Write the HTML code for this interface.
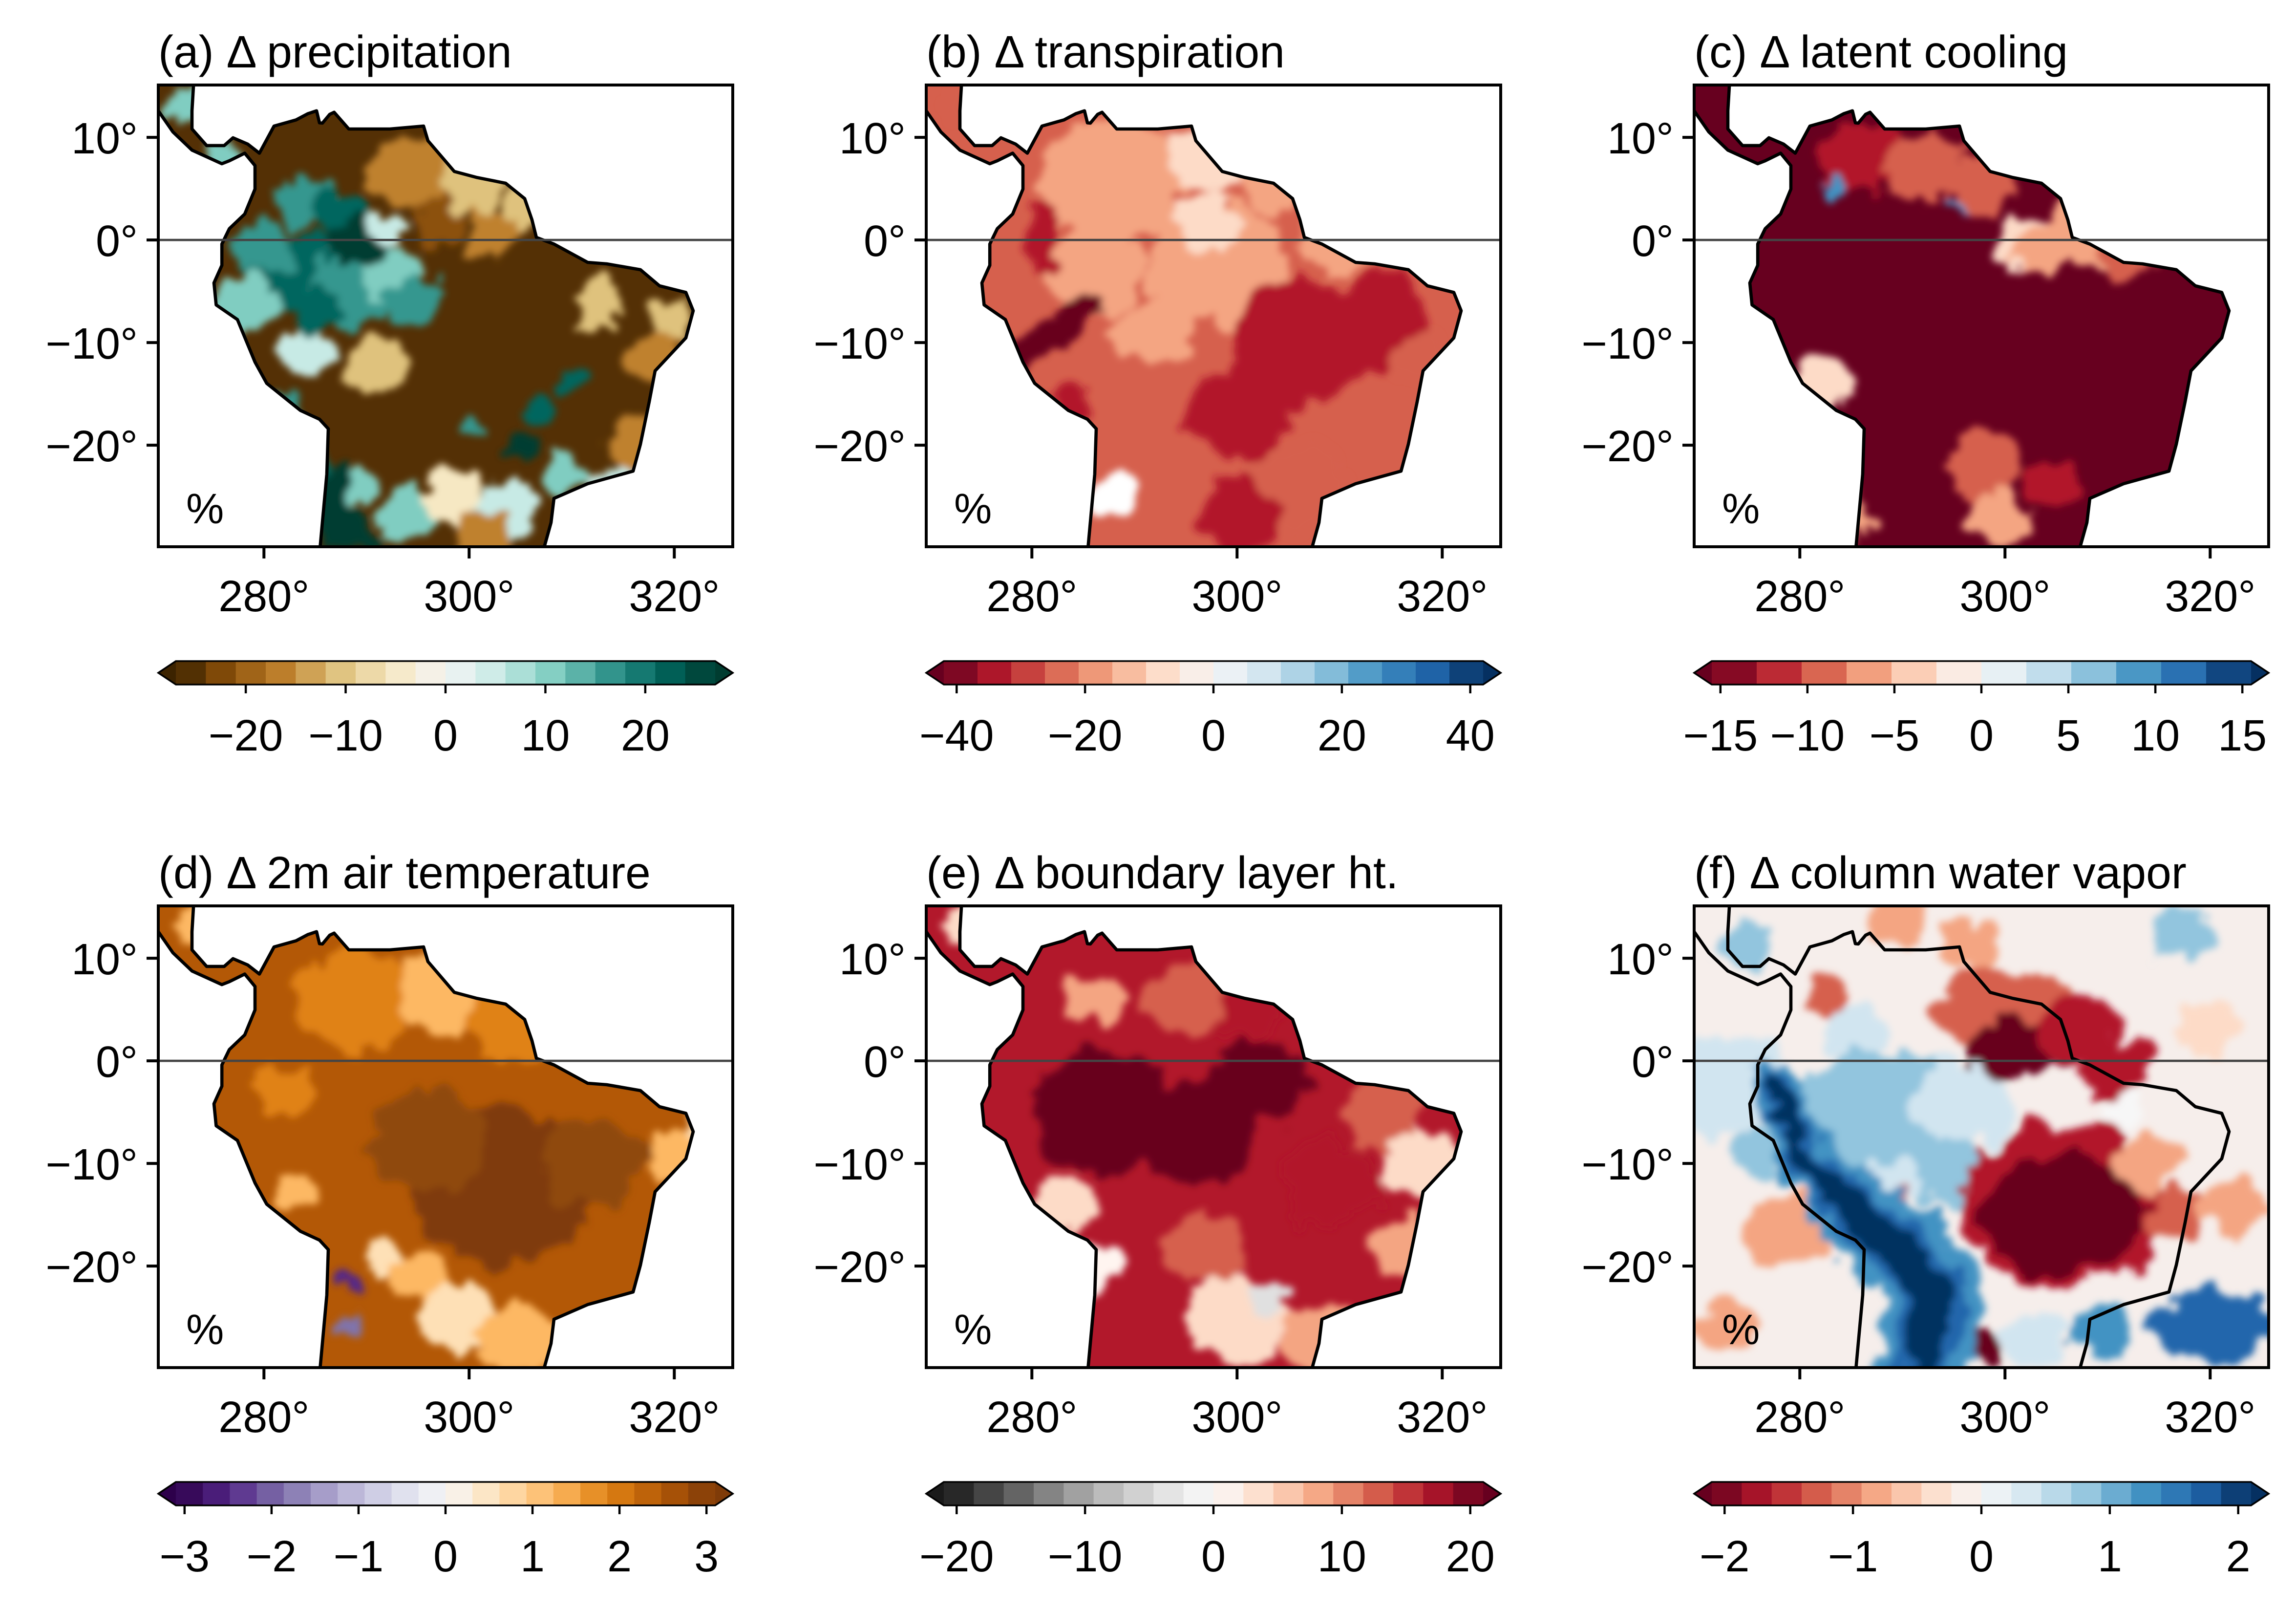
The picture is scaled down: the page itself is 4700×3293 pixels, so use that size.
<!DOCTYPE html>
<html><head><meta charset="utf-8">
<style>
html,body{margin:0;padding:0;background:#fff;}
svg{display:block;}
text{font-family:"Liberation Sans","DejaVu Sans",sans-serif;fill:#000;}
</style></head>
<body>
<svg id="fig" xmlns="http://www.w3.org/2000/svg" width="4700" height="3293" viewBox="0 0 1566.67 1097.67">
<defs>
<filter id="mottle" x="-20%" y="-20%" width="140%" height="140%">
  <feTurbulence type="fractalNoise" baseFrequency="0.05" numOctaves="3" seed="7" result="n"/>
  <feDisplacementMap in="SourceGraphic" in2="n" scale="26" xChannelSelector="R" yChannelSelector="G" result="d"/>
  <feGaussianBlur in="d" stdDeviation="2.5"/>
</filter>
</defs>
</svg>
<script>
// ---- data ----
const latTicks = [10, 0, -10, -20];
const latTickLabels = ["10°", "0°", "−10°", "−20°"];
const lonTicks = [280, 300, 320];
const lonTickLabels = ["280°", "300°", "320°"];
const panelTitles = ["(a) Δ precipitation","(b) Δ transpiration","(c) Δ latent cooling","(d) Δ 2m air temperature","(e) Δ boundary layer ht.","(f) Δ column water vapor"];
const cbMin = [-27, -42, -15.5, -3.1, -21, -2.1];
const cbMax = [27, 42, 15.5, 3.1, 21, 2.1];
const cbBins = [18, 16, 12, 20, 18, 18];
const cbTicks = [[-20,-10,0,10,20],[-40,-20,0,20,40],[-15,-10,-5,0,5,10,15],[-3,-2,-1,0,1,2,3],[-20,-10,0,10,20],[-2,-1,0,1,2]];
// coastline outline traced in map-frame units
const coastX = [-5,24,24,23,23,33,45,51,61,69,79,94,102,108,110,112,117,120,130,145,158,181,184,202,217,237,250,255,258,270,293,306,329,342,360,365,360,339,335,329,324,293,270,268,262,110,115,116,110,97,74,66,54,39.5,38,43.4,43.4,48.5,59,66,66,59,48.5,43.4,23,10,0,-5];
const coastY = [-5,-5,1,17.6,30,41.3,41.3,36,40.3,46.5,28,23.8,19.6,17.6,25.8,26,20,18.6,30,30,30,28,38,59,63,67,77.5,92,104,108.5,121,122,126,137,141.5,154,172.5,195,216,245,263.4,272,282,298.5,320,320,265.5,234.5,228,222,203.5,189,160,150,135,123,108.5,98,88,71,55,46.5,51.7,53.7,44.4,32,17.6,17.6];
const panelLeft = [108, 632, 1156];
const rowTop = [58, 618];

// Andes moisture band in panel f: lon, lat, width (deg)
const bandLon = [277.5, 280.3, 284.6, 289.7, 293, 292.5, 291.5];
const bandLat = [-2, -9.5, -14, -18.4, -22.2, -27, -31];
const bandWidth = [1.5, 2.5, 3.5, 4.5, 5, 4.5, 4];

// map anomaly blobs: [lon, lat, rx(deg), color, ry(deg), rotation]
const blobsA = [
 [282.6,-3.5,5,"#01665e"],[288.3,-4.9,4,"#35978f"],[284,3.7,3,"#35978f"],[287.6,2.2,3,"#01665e"],[292.6,-3.5,3,"#80cdc1"],
 [294.7,-6.3,3,"#35978f"],[278.3,-6.3,3,"#80cdc1"],[284,-10.6,3,"#c7eae5"],[291,-12,3,"#dfc27d"],[280,-1,3,"#35978f"],
 [289,0,3,"#003c30"],[285,-7,2.5,"#01665e"],[292,1,2,"#c7eae5"],[276,8,2,"#80cdc1"],[272,13,2,"#80cdc1"],
 [281.1,-17,2.5,"#35978f"],[284,-21,2.5,"#01665e"],[286.5,-24.5,2.5,"#003c30"],[288,-28,2.5,"#003c30"],[289.5,-24,2,"#80cdc1"],
 [294,-27,3,"#80cdc1"],[298.3,-25,3,"#f6e8c3"],[304,-26,3,"#c7eae5"],[309.7,-23,2,"#80cdc1"],[301,-29,3,"#bf812d"],
 [294,6.5,4,"#bf812d"],[299.7,5.1,3,"#dfc27d"],[302.6,0.8,3,"#bf812d"],[297,2,2.5,"#8c510a"],[306,4,3,"#dfc27d"],
 [318.3,-12,3,"#bf812d"],[319.7,-7.8,2.5,"#dfc27d"],[312.6,-6.3,2.5,"#dfc27d"],[316,-20,3,"#bf812d"],[314,-24,2.5,"#c7eae5"],
 [306.8,-16.5,1.5,"#01665e"],[305.4,-20,1.5,"#003c30"],[300.4,-18,1.2,"#35978f"],[310,-14,1.2,"#01665e"]];
const baseA = "#543005";
const blobsB = [
 [288,6,7,"#f4a582"],[297,8,4,"#fddbc7"],[304,6,4,"#f4a582"],[298,-2,7,"#f4a582"],[286,-3,5,"#f4a582"],[310,0,4,"#f4a582"],
 [292,-9,4,"#f4a582"],[297,2,3,"#fddbc7"],[306,-10,7,"#b2182b"],[314,-8,5,"#b2182b"],[300,-17,5,"#b2182b"],
 [306,-24,5,"#d6604d"],[300,-27,4,"#b2182b"],[318,-12,3,"#d6604d"],[281,-10,1.5,"#67001f",7,55],[284,-16,2,"#b2182b"],
 [288,-25,2.5,"#ffffff"],[281,0,1.5,"#b2182b",4,0],[273,13,2,"#d6604d"]];
const baseB = "#d6604d";
const blobsC = [
 [286,8,4,"#b2182b"],[292,7,4,"#d6604d"],[283.5,5,1.3,"#4393c3"],[296,3.5,1,"#4393c3"],[298,5,3,"#d6604d"],[302,0,3,"#fddbc7"],
 [308,1,4,"#f4a582"],[304,-1,3,"#f4a582"],[282,-14,3,"#fddbc7"],[282,-22,3,"#d1e5f0"],[284,-27,3,"#f4a582"],
 [298,-22,4,"#d6604d"],[305,-24,3,"#b2182b"],[299,-27,3,"#f4a582"],[312,-2,3,"#d6604d"]];
const baseC = "#67001f";
const blobsD = [
 [289,6,6,"#e08214"],[298,7,5,"#fdb863"],[305,4,5,"#e08214"],[282,-3,3,"#e08214"],[283,-13,2,"#fdb863"],[273,13,2,"#fdb863"],
 [303,-12,9,"#7f3b08"],[296,-8,6,"#8f4a0c"],[312,-10,5,"#8f4a0c"],[320,-9,3,"#fdb863"],[323,-6,2,"#fee0b6"],
 [299,-25,4,"#fee0b6"],[305,-27,4,"#fdb863"],[288.5,-22,1.2,"#542788"],[288.5,-26,1.3,"#8073ac"],[292,-19,2,"#fee0b6"],[295,-21,3,"#fdb863"]];
const baseD = "#b35806";
const blobsE = [
 [287,-5,7,"#67001f"],[296,-7,6,"#67001f"],[302,-2,5,"#67001f"],[295,6,4,"#d6604d"],[286,6,3,"#f4a582"],
 [301,5,3,"#b2182b"],[314,-5,4,"#d6604d"],[318,-10,4,"#fddbc7"],[316,-18,3,"#f4a582"],[283,-14,3,"#fddbc7"],
 [286,-20,3,"#fff5f0"],[300,-25,5,"#fddbc7"],[303,-23,2,"#e0e0e0"],[297,-18,4,"#d6604d"],[309,-12,5,"#b2182b"],[308,-27,4,"#f4a582"],[273,13,2,"#fddbc7"]];
const baseE = "#b2182b";
const blobsF = [
 [273,-2.2,6,"#d1e5f0"],[274.8,11.1,2.5,"#92c5de"],[278.4,-16.9,4,"#f4a582"],[273,-25.8,3,"#f4a582"],[276,-9,2.5,"#92c5de"],
 [288,-6,9,"#92c5de",7,0],[296,-4,5,"#d1e5f0"],[294.8,-11,4,"#92c5de"],[289,-12,3,"#d1e5f0"],[285,3,3,"#d1e5f0"],
 [290.4,-15.2,1.5,"#d6604d",5,-50],[283.1,6.7,2,"#d6604d"],[289.4,13.8,3,"#f4a582"],[297,11,3,"#f4a582"],
 [300,5,7,"#d6604d",4,0],[302.1,1.4,5.5,"#67001f",3,0],[307,3,4,"#b2182b"],[311,-1,4,"#b2182b",2.5,-20],
 [305.7,-14,10,"#b2182b",8,0],[305.7,-15,8,"#67001f",6,0],[311.3,-5,2,"#f7f7f7"],[314,-10,3,"#f4a582"],[317,-15,3,"#d6604d"],
 [297.4,-27.3,2.5,"#67001f",2.2,0],[320.4,-25.8,6,"#2166ac",3.5,0],[309.4,-26.3,3,"#4393c3"],[317.4,12,3,"#92c5de"],
 [322.2,-14,3,"#f4a582"],[320,3,3,"#fddbc7"],[303,-27,3,"#d1e5f0"]];
const baseF = "#f6eeeb";
const panelBlobs = [blobsA, blobsB, blobsC, blobsD, blobsE, blobsF];
const panelBase = [baseA, baseB, baseC, baseD, baseE, baseF];

// colormap stops (styling)
const cmaps = [
 ["#3c2300","#8c510a","#bf812d","#dfc27d","#f6e8c3","#f5f5f5","#c7eae5","#80cdc1","#35978f","#01665e","#003c30"],
 ["#67001f","#b2182b","#d6604d","#f4a582","#fddbc7","#f7f7f7","#d1e5f0","#92c5de","#4393c3","#2166ac","#053061"],
 ["#67001f","#b2182b","#d6604d","#f4a582","#fddbc7","#f7f7f7","#d1e5f0","#92c5de","#4393c3","#2166ac","#053061"],
 ["#2d004b","#542788","#8073ac","#b2abd2","#d8daeb","#f7f7f7","#fee0b6","#fdb863","#e08214","#b35806","#7f3b08"],
 ["#1a1a1a","#4d4d4d","#878787","#bababa","#e0e0e0","#fafafa","#fddbc7","#f4a582","#d6604d","#b2182b","#67001f"],
 ["#67001f","#b2182b","#d6604d","#f4a582","#fddbc7","#f7f7f7","#d1e5f0","#92c5de","#4393c3","#2166ac","#053061"]];

// ---- drawing ----
const NS = "http://www.w3.org/2000/svg";
const svg = document.getElementById('fig');
function mk(tag, attrs, parent){ const e=document.createElementNS(NS,tag); for(const k in attrs) e.setAttribute(k,attrs[k]); (parent||svg).appendChild(e); return e; }
const W=392, H=315, LON0=269.7, LAT0=15.1, S=7;
const xOf = lon => (lon-LON0)*S;
const yOf = lat => (LAT0-lat)*S;
function hex(h){return [1,3,5].map(i=>parseInt(h.substr(i,2),16));}
function interp(stops,t){ const n=stops.length-1; const f=Math.min(n-1e-9,Math.max(0,t*n)); const i=Math.floor(f), u=f-i; const a=hex(stops[i]), b=hex(stops[i+1]); return 'rgb('+a.map((v,k)=>Math.round(v+(b[k]-v)*u)).join(',')+')'; }
const coastPts = coastX.map((x,i)=>x+','+coastY[i]).join(' ');

for(let p=0;p<6;p++){
  const col=p%3, row=Math.floor(p/3);
  const X0=panelLeft[col], Y0=rowTop[row];
  const g = mk('g',{transform:`translate(${X0},${Y0})`});
  
  
  const t = mk('text',{x:0,y:-12,'font-size':31},g); t.textContent=panelTitles[p];
   
  mk('clipPath',{id:'fr'+p},g).appendChild(mk('rect',{x:0,y:0,width:W,height:H},g));
  mk('clipPath',{id:'ld'+p},g).appendChild(mk('polygon',{points:coastPts},g));
  const clip = p===5 ? 'url(#fr'+p+')' : 'url(#ld'+p+')';
  const fg = mk('g',{'clip-path':clip},g);
  const inner = mk('g',{'clip-path':'url(#fr'+p+')'},fg);
  mk('rect',{x:-20,y:-20,width:W+40,height:H+40,fill:panelBase[p]},inner);
  const bg = mk('g',{filter:'url(#mottle)'},inner);
  panelBlobs[p].forEach(b=>{
    const rx=b[2]*S, ry=(b[4]!==undefined?b[4]:b[2]*0.85)*S, rot=b[5]||0;
    const c=mk('ellipse',{cx:xOf(b[0]),cy:yOf(b[1]),rx:rx,ry:ry,fill:b[3],transform:`rotate(${rot} ${xOf(b[0])} ${yOf(b[1])})`},bg);
     
  });
  if(p===5){
    [['#4393c3',2.0],['#2166ac',1.3],['#053061',0.8]].forEach(([clr,f])=>{
      for(let i=0;i<bandLon.length-1;i++){
        const s=mk('line',{x1:xOf(bandLon[i]),y1:yOf(bandLat[i]),x2:xOf(bandLon[i+1]),y2:yOf(bandLat[i+1]),stroke:clr,'stroke-width':(bandWidth[i]+bandWidth[i+1])/2*S*f,'stroke-linecap':'round'},bg);
         
      }
    });
  }
  const cl = mk('polygon',{points:coastPts,fill:'none',stroke:'#000','stroke-width':2.2,'stroke-linejoin':'round','clip-path':'url(#fr'+p+')'},g);
   
  const eq = mk('line',{x1:0,x2:W,y1:yOf(0),y2:yOf(0),stroke:'#444','stroke-width':1.6},g);
   
  const fr = mk('rect',{x:0,y:0,width:W,height:H,fill:'none',stroke:'#000','stroke-width':2},g);
   
  const pc = mk('text',{x:19,y:299,'font-size':29},g); pc.textContent='%';
   
  latTicks.forEach((v,i)=>{
    mk('line',{x1:-8,x2:0,y1:yOf(v),y2:yOf(v),stroke:'#000','stroke-width':2},g);
    const tl=mk('text',{x:-14,y:yOf(v)+11,'font-size':30,'text-anchor':'end'},g); tl.textContent=latTickLabels[i];
     
  });
  lonTicks.forEach((v,i)=>{
    mk('line',{x1:xOf(v),x2:xOf(v),y1:H,y2:H+8,stroke:'#000','stroke-width':2},g);
    const tl=mk('text',{x:xOf(v),y:H+44,'font-size':30,'text-anchor':'middle'},g); tl.textContent=lonTickLabels[i];
     
  });
  // colorbar
  const cb = mk('g',{transform:`translate(0,${H+78})`},g);
   
  const bx0=12, bx1=W-12, bh=16;
  const cx = v => bx0+(v-cbMin[p])/(cbMax[p]-cbMin[p])*(bx1-bx0);
  const n=cbBins[p], step=(cbMax[p]-cbMin[p])/n;
  for(let i=0;i<n;i++){
    const a=cbMin[p]+i*step;
    const r=mk('rect',{x:cx(a),y:0,width:cx(a+step)-cx(a)+0.6,height:bh,fill:interp(cmaps[p],(i+0.5)/n)},cb);
     
  }
  mk('polygon',{points:`${bx0},0 0,${bh/2} ${bx0},${bh}`,fill:cmaps[p][0]},cb);
  mk('polygon',{points:`${bx1},0 ${W},${bh/2} ${bx1},${bh}`,fill:cmaps[p][cmaps[p].length-1]},cb);
  mk('polygon',{points:`${bx0},0 0,${bh/2} ${bx0},${bh} ${bx1},${bh} ${W},${bh/2} ${bx1},0`,fill:'none',stroke:'#000','stroke-width':1.2},cb);
  cbTicks[p].forEach(v=>{
    mk('line',{x1:cx(v),x2:cx(v),y1:bh,y2:bh+6,stroke:'#000','stroke-width':1.5},cb);
    const tl=mk('text',{x:cx(v),y:bh+45,'font-size':30,'text-anchor':'middle'},cb);
    tl.textContent = v<0 ? '−'+Math.abs(v) : String(v);
     
  });
}
</script>
</body></html>
